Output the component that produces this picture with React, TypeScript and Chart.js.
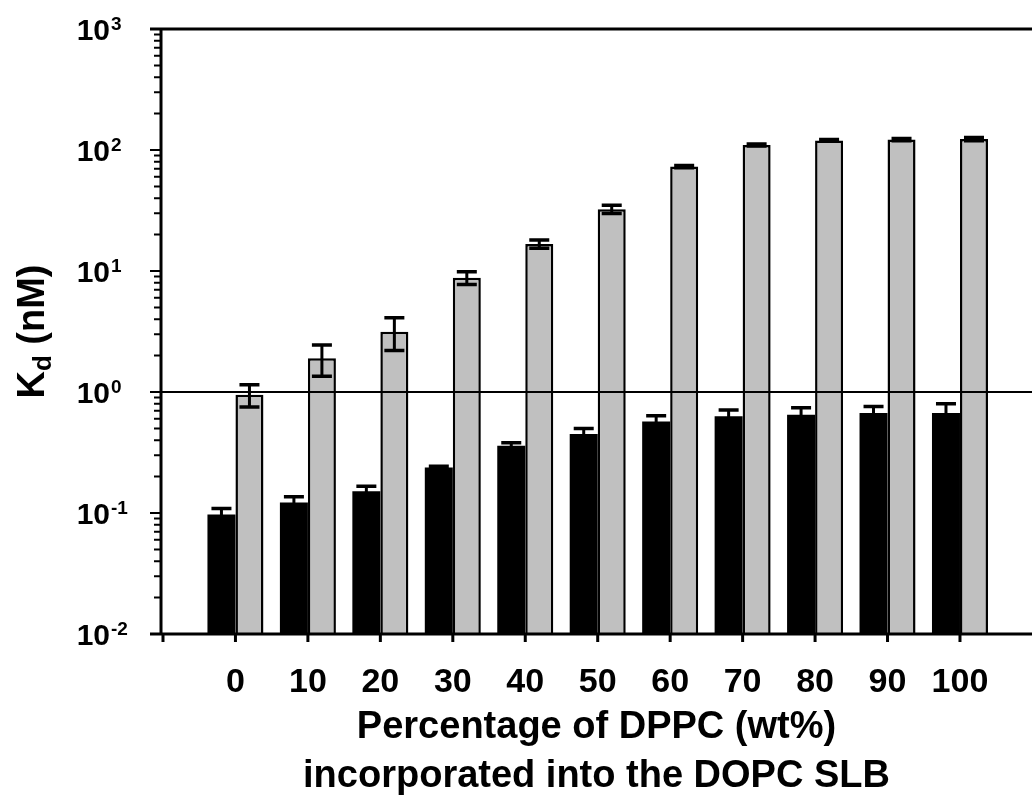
import React, { useEffect, useRef } from 'react';
import { Chart, registerables } from 'chart.js';

Chart.register(...registerables);

// ---- data ----
const categories = [0, 10, 20, 30, 40, 50, 60, 70, 80, 90, 100];
const blackValues = [0.097, 0.122, 0.151, 0.238, 0.36, 0.45, 0.57, 0.63, 0.65, 0.67, 0.67];
const blackErrors = [0.012, 0.014, 0.015, 0.005, 0.02, 0.05, 0.065, 0.08, 0.09, 0.09, 0.13];
const grayValues = [0.95, 1.9, 3.15, 8.8, 16.7, 32.4, 73, 110, 120, 122, 123];
const grayErrors = [0.2, 0.55, 0.95, 1.05, 1.3, 2.5, 1.5, 2, 2, 2.5, 4];
const xTickValues = [-10, 0, 10, 20, 30, 40, 50, 60, 70, 80, 90, 100];
const yDecades = [-2, -1, 0, 1, 2, 3];
const referenceValue = 1;
const xTitleLines = ['Percentage of DPPC (wt%)', 'incorporated into the DOPC SLB'];
const yTitleMain = 'K';
const yTitleSub = 'd';
const yTitleRest = ' (nM)';

const FONT = 'Arial, "Liberation Sans", sans-serif';

const decorPlugin = {
  id: 'decor',
  afterDatasetsDraw(chart: any) {
    const ctx = chart.ctx;
    const y = chart.scales.y;
    const ca = chart.chartArea;
    ctx.save();
    // error bars
    const errs = [blackErrors, grayErrors];
    const vals = [blackValues, grayValues];
    ctx.strokeStyle = '#000';
    for (let d = 0; d < 2; d++) {
      const meta = chart.getDatasetMeta(d);
      meta.data.forEach((bar: any, i: number) => {
        const v = vals[d][i];
        const e = errs[d][i];
        const cx = bar.x;
        const top = y.getPixelForValue(v + e);
        const bot = y.getPixelForValue(Math.max(v - e, 1e-6));
        const hw = 10;
        ctx.lineWidth = 3;
        ctx.beginPath();
        ctx.moveTo(cx, top);
        ctx.lineTo(cx, bot);
        ctx.stroke();
        ctx.lineWidth = 3.5;
        ctx.beginPath();
        ctx.moveTo(cx - hw, top);
        ctx.lineTo(cx + hw, top);
        ctx.moveTo(cx - hw, bot);
        ctx.lineTo(cx + hw, bot);
        ctx.stroke();
      });
    }
    // reference line
    const ry = y.getPixelForValue(referenceValue);
    ctx.lineWidth = 2;
    ctx.beginPath();
    ctx.moveTo(ca.left, ry);
    ctx.lineTo(ca.right, ry);
    ctx.stroke();
    ctx.restore();
  },
  afterDraw(chart: any) {
    const ctx = chart.ctx;
    const x = chart.scales.x;
    const y = chart.scales.y;
    const ca = chart.chartArea;
    ctx.save();
    ctx.strokeStyle = '#000';
    ctx.fillStyle = '#000';
    // frame lines
    ctx.lineWidth = 3;
    ctx.beginPath();
    ctx.moveTo(ca.left - 11, ca.bottom);
    ctx.lineTo(ca.right, ca.bottom);
    ctx.moveTo(ca.left - 11, ca.top);
    ctx.lineTo(ca.right, ca.top);
    ctx.moveTo(ca.left, ca.top);
    ctx.lineTo(ca.left, ca.bottom);
    ctx.stroke();
    // y ticks
    ctx.lineWidth = 2;
    ctx.beginPath();
    yDecades.forEach((d, k) => {
      const py = y.getPixelForValue(Math.pow(10, d));
      ctx.moveTo(ca.left - 11, py);
      ctx.lineTo(ca.left, py);
      if (k < yDecades.length - 1) {
        for (let m = 2; m <= 9; m++) {
          const my = y.getPixelForValue(m * Math.pow(10, d));
          ctx.moveTo(ca.left - 7, my);
          ctx.lineTo(ca.left, my);
        }
      }
    });
    ctx.stroke();
    // x ticks
    ctx.lineWidth = 3;
    ctx.beginPath();
    xTickValues.forEach((v) => {
      const px = x.getPixelForValue(v);
      ctx.moveTo(px, ca.bottom);
      ctx.lineTo(px, ca.bottom + 8);
    });
    ctx.stroke();
    // x tick labels
    ctx.font = `bold 34px ${FONT}`;
    ctx.textAlign = 'center';
    ctx.textBaseline = 'alphabetic';
    categories.forEach((v) => {
      ctx.fillText(String(v), x.getPixelForValue(v), ca.bottom + 58);
    });
    // y tick labels
    yDecades.forEach((d) => {
      const py = y.getPixelForValue(Math.pow(10, d));
      ctx.font = `bold 30px ${FONT}`;
      ctx.textAlign = 'right';
      ctx.fillText('10', ca.left - 51, py + 11);
      ctx.font = `bold 19px ${FONT}`;
      ctx.textAlign = 'left';
      ctx.fillText(d < 0 ? '-' + String(-d) : String(d), ca.left - 50, py + 1);
    });
    // x title
    ctx.font = `bold 38px ${FONT}`;
    ctx.textAlign = 'center';
    const cx = (ca.left + ca.right) / 2;
    ctx.fillText(xTitleLines[0], cx, 738);
    ctx.fillText(xTitleLines[1], cx, 787);
    // y title (rotated)
    ctx.translate(44, (ca.top + ca.bottom) / 2);
    ctx.rotate(-Math.PI / 2);
    ctx.font = `bold 38px ${FONT}`;
    const wK = ctx.measureText(yTitleMain).width;
    ctx.font = `bold 26px ${FONT}`;
    const wd = ctx.measureText(yTitleSub).width;
    ctx.font = `bold 38px ${FONT}`;
    const wR = ctx.measureText(yTitleRest).width;
    const total = wK + wd + wR;
    let sx = -total / 2;
    ctx.textAlign = 'left';
    ctx.fillText(yTitleMain, sx, 0);
    sx += wK;
    ctx.font = `bold 26px ${FONT}`;
    ctx.fillText(yTitleSub, sx, 7);
    sx += wd;
    ctx.font = `bold 38px ${FONT}`;
    ctx.fillText(yTitleRest, sx, 0);
    ctx.restore();
  },
};

export default function App() {
  const ref = useRef<HTMLCanvasElement | null>(null);
  useEffect(() => {
    if (!ref.current) return;
    const chart = new Chart(ref.current, {
      type: 'bar',
      data: {
        datasets: [
          {
            label: 'black',
            data: categories.map((c, i) => ({ x: c, y: blackValues[i] })),
            backgroundColor: '#000000',
            borderColor: '#000000',
            borderWidth: 0,
          },
          {
            label: 'gray',
            data: categories.map((c, i) => ({ x: c, y: grayValues[i] })),
            backgroundColor: '#c0c0c0',
            borderColor: '#000000',
            borderWidth: 2.5,
          },
        ],
      },
      options: {
        responsive: false,
        animation: false,
        layout: { padding: { top: 29, right: 0, left: 0, bottom: 0 } },
        plugins: { legend: { display: false }, tooltip: { enabled: false }, title: { display: false } },
        datasets: { bar: { barPercentage: 1, categoryPercentage: 0.773 } },
        scales: {
          x: {
            type: 'linear',
            min: -10.276,
            max: 109.94,
            offset: false,
            grid: { display: false },
            border: { display: false },
            ticks: { display: false },
            afterBuildTicks: (s: any) => {
              s.ticks = xTickValues.map((v) => ({ value: v }));
            },
            afterFit: (s: any) => {
              s.height = 167;
            },
          },
          y: {
            type: 'logarithmic',
            min: 0.01,
            max: 1000,
            grid: { display: false },
            border: { display: false },
            ticks: { display: false },
            afterFit: (s: any) => {
              s.width = 161;
            },
          },
        },
      } as any,
      plugins: [decorPlugin],
    });
    return () => chart.destroy();
  }, []);
  return (
    <div style={{ position: 'fixed', left: 0, top: 0, width: 1032, height: 801, background: '#fff' }}>
      <canvas ref={ref} width={1032} height={801} style={{ display: 'block' }} />
    </div>
  );
}
